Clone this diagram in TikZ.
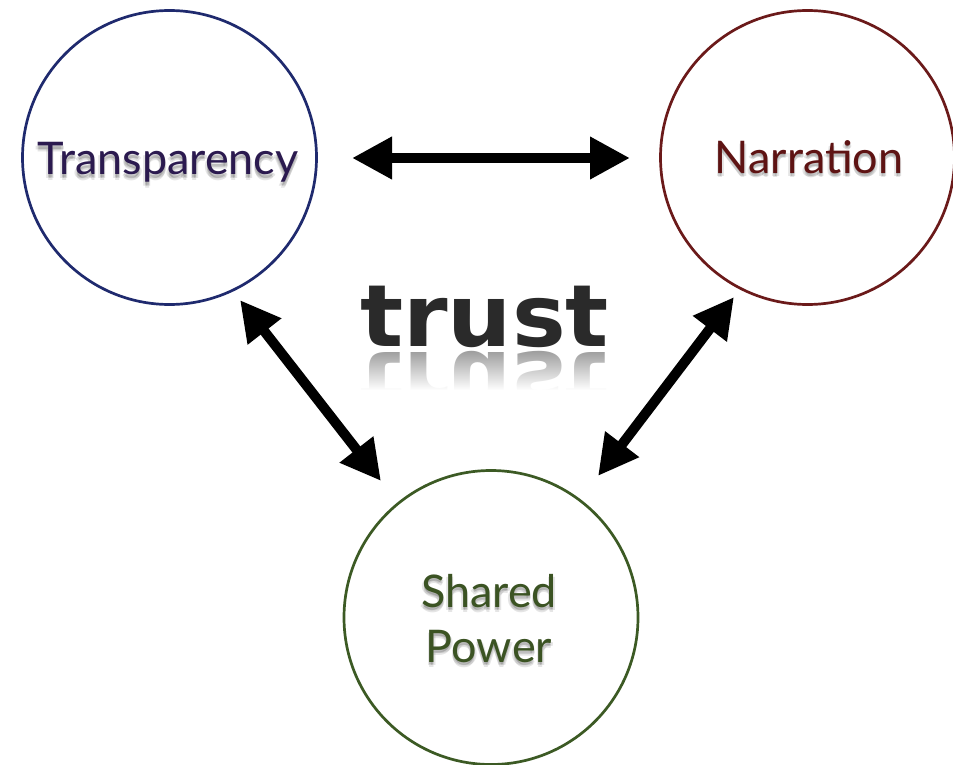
\documentclass[tikz,border=0pt]{standalone}
\usepackage{fontspec}
\setmainfont{Lato}
\newfontfamily\trustfont{DejaVu Sans}
\usetikzlibrary{arrows.meta,fadings}

\definecolor{tring}{HTML}{1F2A6E}
\definecolor{ttext}{HTML}{2B1A4F}
\definecolor{nring}{HTML}{6B1A1A}
\definecolor{ntext}{HTML}{5E1313}
\definecolor{sring}{HTML}{3C5A24}
\definecolor{stext}{HTML}{3B5323}
\definecolor{trustink}{HTML}{2A2A2A}

\begin{document}
\begin{tikzpicture}[x=1pt,y=-1pt,
  ring/.style={circle, draw, line width=2.7pt, minimum size=294pt, inner sep=0pt},
  word/.style={font=\fontsize{45}{54}\selectfont, inner sep=0pt, anchor=base},
  haze/.style={word, text=black, text opacity=0.10},
  bigword/.style={inner sep=0pt, anchor=base,
    font=\trustfont\bfseries\fontsize{86}{90}\selectfont},
  link/.style={line width=10pt,
    {Triangle[length=40pt,width=40pt]}-{Triangle[length=40pt,width=40pt]}},
]
\useasboundingbox[fill=white] (0,0) rectangle (953,765);

% the three circles
\node[ring, draw=tring] (T) at (169.5,157.5) {};
\node[ring, draw=nring] (N) at (807.5,157.5) {};
\node[ring, draw=sring] (S) at (491,617.5) {};

% soft drop shadows under the circle labels
\foreach \dx/\dy in {0/2,1.5/3.5,-1.5/3.5,0/5}{
  \node[haze] (ths) at (168+\dx,175+\dy) {Transparency};
  \node[haze] (nhs) at (809+\dx,173+\dy) {Narration};
  \node[haze] (shs) at (489+\dx,607+\dy) {Shared};
  \node[haze] (phs) at (489+\dx,662+\dy) {Power};
}

% circle labels
\node[word, text=ttext] (tl) at (168,175) {Transparency};
\node[word, text=ntext] (nl) at (809,173) {Narration};
\node[word, text=stext] (sl1) at (489,607) {Shared};
\node[word, text=stext] (sl2) at (489,662) {Power};

% central word with its mirrored reflection
\node[bigword, text=black!38] (refl) at (484.5,352)
  {\scalebox{1.05}[-1]{trust}};
\fill[white, path fading=north] (340,351) rectangle (630,390);
\fill[white] (340,390) rectangle (630,430);
\node[bigword, text=trustink] (trust) at (484.5,346)
  {\scalebox{1.05}[1]{trust}};

% arrow end points
\coordinate (tn1) at (352,158);
\coordinate (tn2) at (630,158);
\coordinate (ts1) at (240,300);
\coordinate (ts2) at (381,481);
\coordinate (ns1) at (734,297);
\coordinate (ns2) at (598,476);

% two-way arrows between the circles
\draw[link] (tn1) -- (tn2);
\draw[link] (ts1) -- (ts2);
\draw[link] (ns1) -- (ns2);
\end{tikzpicture}
\end{document}
